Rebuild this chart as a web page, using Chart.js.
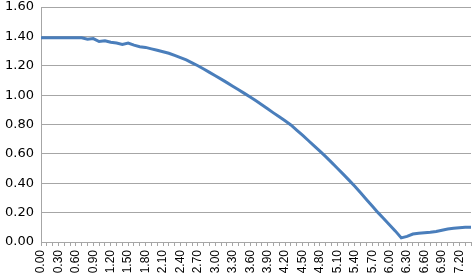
<!DOCTYPE html>
<html>
<head>
<meta charset="utf-8">
<script src="https://cdn.jsdelivr.net/npm/chart.js@4/dist/chart.umd.min.js"></script>
<style>
  html, body { margin: 0; padding: 0; background: #fff; }
  #wrap { width: 472px; height: 279px; }
</style>
</head>
<body>
<div id="wrap"><canvas id="chart"></canvas></div>
<script>
// categories 0.00 .. 7.40 in steps of 0.10
const xLabels = [
  '0.00','0.10','0.20','0.30','0.40','0.50','0.60','0.70','0.80','0.90',
  '1.00','1.10','1.20','1.30','1.40','1.50','1.60','1.70','1.80','1.90',
  '2.00','2.10','2.20','2.30','2.40','2.50','2.60','2.70','2.80','2.90',
  '3.00','3.10','3.20','3.30','3.40','3.50','3.60','3.70','3.80','3.90',
  '4.00','4.10','4.20','4.30','4.40','4.50','4.60','4.70','4.80','4.90',
  '5.00','5.10','5.20','5.30','5.40','5.50','5.60','5.70','5.80','5.90',
  '6.00','6.10','6.20','6.30','6.40','6.50','6.60','6.70','6.80','6.90',
  '7.00','7.10','7.20','7.30','7.40'
];

const values = [
  1.39, 1.39, 1.39, 1.39, 1.39, 1.39, 1.39, 1.39, 1.38, 1.385,
  1.365, 1.37, 1.36, 1.355, 1.345, 1.355, 1.34, 1.33, 1.325, 1.315,
  1.305, 1.295, 1.285, 1.27, 1.255, 1.24, 1.22, 1.20, 1.178, 1.155,
  1.132, 1.109, 1.085, 1.061, 1.037, 1.012, 0.987, 0.961, 0.934, 0.907,
  0.879, 0.852, 0.825, 0.797, 0.762, 0.727, 0.691, 0.655, 0.619, 0.581,
  0.542, 0.502, 0.462, 0.421, 0.379, 0.335, 0.29, 0.245, 0.20, 0.158,
  0.116, 0.074, 0.028, 0.038, 0.054, 0.06, 0.063, 0.066, 0.072, 0.08,
  0.088, 0.093, 0.097, 0.10, 0.10
];

const yTicks = [0, 0.2, 0.4, 0.6, 0.8, 1.0, 1.2, 1.4, 1.6];

const gridColor = '#a6a6a6';

new Chart(document.getElementById('chart'), {
  type: 'line',
  data: {
    labels: xLabels,
    datasets: [{
      data: values,
      borderColor: '#4a7ebb',
      borderWidth: 3,
      pointRadius: 0,
      tension: 0,
      fill: false
    }]
  },
  options: {
    responsive: true,
    maintainAspectRatio: false,
    animation: false,
    layout: { padding: { top: 0, right: 1, left: 0, bottom: 0 } },
    plugins: { legend: { display: false }, tooltip: { enabled: false } },
    scales: {
      x: {
        offset: false,
        border: { color: gridColor, width: 1 },
        grid: { display: true, drawOnChartArea: false, drawTicks: true, tickLength: 4, color: gridColor },
        ticks: {
          autoSkip: false,
          minRotation: 90,
          maxRotation: 90,
          padding: 4,
          color: '#000',
          font: { family: 'Liberation Sans', size: 12 },
          callback: (v, i) => (i % 3 === 0 ? xLabels[i] : '')
        },
        afterFit: s => { s.height = 37; s.paddingLeft = 0; s.paddingRight = 0; }
      },
      y: {
        min: 0,
        max: 1.6,
        border: { color: gridColor, width: 1 },
        grid: { color: gridColor, drawTicks: false },
        afterBuildTicks: s => { s.ticks = yTicks.map(v => ({ value: v })); },
        ticks: {
          padding: 7,
          color: '#000',
          font: { family: 'DejaVu Sans', size: 13 },
          callback: v => v.toFixed(2)
        },
        afterFit: s => { s.width = 41; s.paddingTop = 7; s.paddingBottom = 0; }
      }
    }
  }
});
</script>
</body>
</html>
